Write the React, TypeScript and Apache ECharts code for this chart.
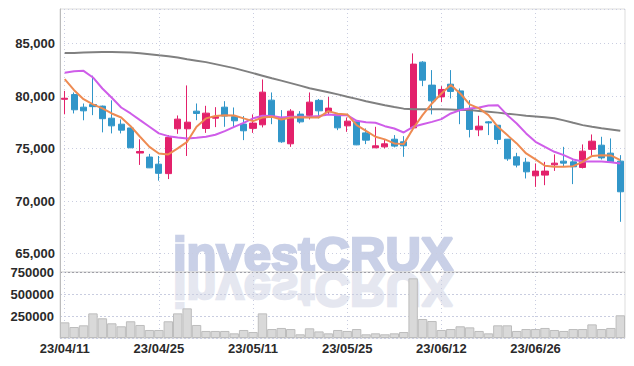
import React, { useEffect, useRef } from "react";
import * as echarts from "echarts";

const dates = [
  "23/04/11","23/04/12","23/04/13","23/04/14","23/04/17","23/04/18","23/04/19","23/04/20","23/04/21","23/04/24",
  "23/04/25","23/04/26","23/04/27","23/04/28","23/05/02","23/05/03","23/05/04","23/05/08","23/05/09","23/05/10",
  "23/05/11","23/05/12","23/05/15","23/05/16","23/05/17","23/05/18","23/05/19","23/05/22","23/05/23","23/05/24",
  "23/05/25","23/05/26","23/05/30","23/05/31","23/06/01","23/06/02","23/06/05","23/06/07","23/06/08","23/06/09",
  "23/06/12","23/06/13","23/06/14","23/06/15","23/06/16","23/06/19","23/06/20","23/06/21","23/06/22","23/06/23",
  "23/06/26","23/06/27","23/06/28","23/06/29","23/06/30","23/07/03","23/07/04","23/07/05","23/07/06","23/07/07",
];

const opens = [
  79700, 80150, 78950, 79200, 79050, 77900, 77330, 76970, 74580, 74200,
  73520, 72620, 76890, 76890, 78570, 76920, 77900, 78950, 78050, 77340,
  76930, 77270, 79620, 77940, 75460, 78290, 78170, 79600, 78500, 78190,
  77170, 77550, 76500, 75080, 75170, 75900, 75650, 76980, 83240, 81050,
  79930, 81140, 80500, 78760, 76790, 77550, 77230, 75900, 74220, 73710,
  72410, 72480, 73460, 73810, 73740, 73210, 74930, 75330, 74570, 73810,
];
const closes = [
  79800, 78700, 78600, 79000, 77850, 77170, 76760, 75080, 74730, 73170,
  72650, 76070, 77810, 77520, 78350, 78380, 78050, 78100, 77650, 76700,
  77430, 80380, 77970, 75650, 78570, 77550, 79430, 78600, 78860, 76980,
  77620, 75360, 75810, 75270, 75460, 75240, 75270, 83050, 81520, 79550,
  80640, 80450, 78670, 76830, 77140, 77450, 75880, 74030, 73430, 72790,
  72860, 72860, 73620, 73620, 73270, 74760, 75710, 74120, 73740, 70890,
];
const lows = [
  78270, 78350, 77700, 78190, 76550, 76450, 76450, 75050, 73450, 73150,
  71950, 72100, 76410, 74300, 77710, 76500, 77050, 77080, 77020, 75810,
  76500, 77020, 77330, 75550, 75170, 77400, 77780, 77880, 78290, 76760,
  76600, 75330, 75430, 75050, 75020, 75120, 74220, 76670, 80950, 78260,
  79430, 79780, 77330, 76070, 76190, 76290, 75430, 73840, 73210, 72160,
  71360, 71520, 72880, 73270, 71620, 73110, 74350, 73970, 73700, 68030,
];
const highs = [
  80500, 80350, 79300, 81950, 79100, 79600, 77780, 77000, 75890, 74500,
  74300, 76290, 78160, 81020, 79300, 79080, 78950, 79520, 78920, 78100,
  78260, 81590, 80350, 78670, 78760, 78570, 80350, 79730, 79930, 78200,
  77970, 77580, 76920, 77080, 75880, 76290, 76190, 84070, 83330, 82480,
  80950, 82480, 80730, 79620, 78130, 77620, 77250, 75920, 74600, 74120,
  73590, 73740, 74450, 75170, 73900, 75400, 76350, 76130, 75970, 74380,
];

const ma5 = [
  81620, 80570, 79710, 79210, 78830, 78350, 77970, 77140, 76130, 75170,
  74540, 74450, 75020, 75650, 77080, 77880, 78100, 78190, 78160, 77880,
  77620, 77970, 78030, 77780, 77970, 78000, 77970, 77970, 78570, 78320,
  78260, 77240, 76700, 76130, 75880, 75500, 75430, 76920, 78190, 79300,
  80250, 81050, 80250, 79210, 78830, 78190, 77080, 76290, 75500, 74540,
  73970, 73370, 73270, 73270, 73330, 73740, 74310, 74380, 74350, 73900,
];
const ma10 = [
  82220, 82380, 82410, 81780, 80730, 79840, 78920, 78350, 77710, 77080,
  76450, 76190, 76070, 75970, 76030, 76130, 76320, 76670, 77080, 77460,
  77880, 78130, 78100, 77970, 78030, 78030, 78030, 78100, 78260, 78190,
  78190, 77650, 77520, 77460, 77140, 76920, 76540, 77080, 77330, 77550,
  77810, 78350, 78670, 78830, 78920, 79110, 79140, 78190, 77400, 76450,
  75650, 75170, 74700, 74380, 73970, 73780, 73780, 73780, 73710, 73590,
];
const maLong = [
  84100, 84110, 84150, 84190, 84200, 84200, 84190, 84150, 84080, 84000,
  83900, 83810, 83680, 83520, 83380, 83240, 83050, 82860, 82670, 82430,
  82190, 81950, 81710, 81480, 81240, 81000, 80760, 80570, 80380, 80170,
  79950, 79740, 79520, 79330, 79140, 78970, 78810, 78760, 78760, 78750,
  78740, 78720, 78690, 78670, 78590, 78510, 78430, 78330, 78240, 78140,
  78060, 77980, 77900, 77690, 77460, 77240, 77080, 76950, 76830, 76700,
];
const volumes = [
  178000, 125000, 144000, 280000, 224000, 167000, 133000, 190000, 148000, 91000,
  91000, 190000, 280000, 337000, 148000, 80000, 80000, 80000, 53000, 91000,
  68000, 280000, 102000, 114000, 102000, 42000, 110000, 75000, 53000, 91000,
  80000, 102000, 42000, 53000, 42000, 53000, 68000, 678000, 216000, 193000,
  91000, 102000, 133000, 121000, 80000, 53000, 144000, 144000, 80000, 102000,
  102000, 114000, 91000, 80000, 102000, 102000, 155000, 102000, 114000, 258000,
];

const watermark = "investCRUX";

const UP = "#e3216b";
const DOWN = "#3196c9";
const FONT = '"Liberation Sans", Arial, sans-serif';
const GRID_DOT = "#c9cde0";
const WM_FONT = 'bold 49px "Liberation Sans", Arial, sans-serif';

export default function App() {
  const ref = useRef<HTMLDivElement>(null);
  useEffect(() => {
    if (!ref.current) return;
    const chart = echarts.init(ref.current, null, { renderer: "svg" });
    const candles = dates.map((_, i) => [opens[i], closes[i], lows[i], highs[i]]);
    const labelStyle = { fontFamily: FONT, fontSize: 13, fontWeight: "bold" as const, color: "#2a2a2a" };
    chart.setOption({
      animation: false,
      backgroundColor: "#ffffff",
      grid: [
        { left: 60, top: 9, width: 565, height: 263, show: true, borderColor: "#dddddd", borderWidth: 1, outerBoundsMode: "none" },
        { left: 60, top: 272, width: 565, height: 66, show: true, borderColor: "#dddddd", borderWidth: 1, outerBoundsMode: "none" },
      ],
      xAxis: [
        {
          type: "category", gridIndex: 0, data: dates, boundaryGap: true,
          axisLine: { show: false }, axisTick: { show: false }, axisLabel: { show: false },
          splitLine: { show: true, interval: 9, alignWithLabel: true, lineStyle: { color: GRID_DOT, type: [1, 3], width: 1 } },
        },
        {
          type: "category", gridIndex: 1, data: dates, boundaryGap: true,
          axisLine: { show: false }, axisTick: { show: false },
          axisLabel: { ...labelStyle, interval: 9, margin: 4 },
          splitLine: { show: true, interval: 9, alignWithLabel: true, lineStyle: { color: GRID_DOT, type: [1, 3], width: 1 } },
        },
      ],
      yAxis: [
        {
          type: "value", gridIndex: 0, min: 63250, max: 88300, splitNumber: 5,
          axisLine: { show: true, lineStyle: { color: "#bbbbbb" } }, axisTick: { show: false },
          axisLabel: {
            ...labelStyle, margin: 5, showMinLabel: false, showMaxLabel: false,
            formatter: (v: number) => v.toLocaleString("en-US"),
          },
          splitLine: { show: true, lineStyle: { color: GRID_DOT, type: [1, 3], width: 1 } },
        },
        {
          type: "value", gridIndex: 1, min: 0, max: 750000, interval: 250000,
          axisLine: { show: true, lineStyle: { color: "#bbbbbb" } }, axisTick: { show: false },
          axisLabel: { ...labelStyle, margin: 6, showMinLabel: false, formatter: (v: number) => String(v) },
          splitLine: {
            show: true,
            lineStyle: { color: [GRID_DOT, GRID_DOT, GRID_DOT, "#a0a0a8"], type: [2, 2], width: 1 },
          },
        },
      ],
      graphic: [
        {
          type: "group", x: 172, y: 272, z: -10, silent: true,
          children: [
            {
              type: "text", x: 0, y: 0, z: -10,
              style: {
                text: watermark, x: 1, y: -18, font: WM_FONT,
                fill: "#c9d0e7", stroke: "#c9d0e7", lineWidth: 2.5,
                align: "left", verticalAlign: "middle", textAlign: "left", textVerticalAlign: "middle",
              },
            },
            {
              type: "text", x: 0, y: 0, scaleY: -1, z: -10,
              style: {
                text: watermark, x: 1, y: -18, font: WM_FONT,
                fill: "#e5e7f0", stroke: "#e5e7f0", lineWidth: 2.5,
                align: "left", verticalAlign: "middle", textAlign: "left", textVerticalAlign: "middle",
              },
            },
          ],
        },
      ],
      series: [
        {
          type: "candlestick", xAxisIndex: 0, yAxisIndex: 0, data: candles, barWidth: "70%",
          itemStyle: { color: UP, color0: DOWN, borderColor: UP, borderColor0: DOWN, borderWidth: 1 },
        },
        { type: "line", xAxisIndex: 0, yAxisIndex: 0, data: maLong, symbol: "none", lineStyle: { color: "#808080", width: 2 }, itemStyle: { color: "#808080" } },
        { type: "line", xAxisIndex: 0, yAxisIndex: 0, data: ma10, symbol: "none", lineStyle: { color: "#cf5de9", width: 2 }, itemStyle: { color: "#cf5de9" } },
        { type: "line", xAxisIndex: 0, yAxisIndex: 0, data: ma5, symbol: "none", lineStyle: { color: "#ee8b52", width: 2 }, itemStyle: { color: "#ee8b52" } },
        {
          type: "bar", xAxisIndex: 1, yAxisIndex: 1, data: volumes, barWidth: "100%",
          itemStyle: { color: "#d9d9d9", borderColor: "#bdbdbd", borderWidth: 1 },
        },
      ],
    });
    return () => chart.dispose();
  }, []);
  return (
    <div style={{ position: "fixed", left: 0, top: 0, width: 634, height: 366, background: "#fff" }}>
      <div ref={ref} style={{ width: 634, height: 366 }} />
    </div>
  );
}
